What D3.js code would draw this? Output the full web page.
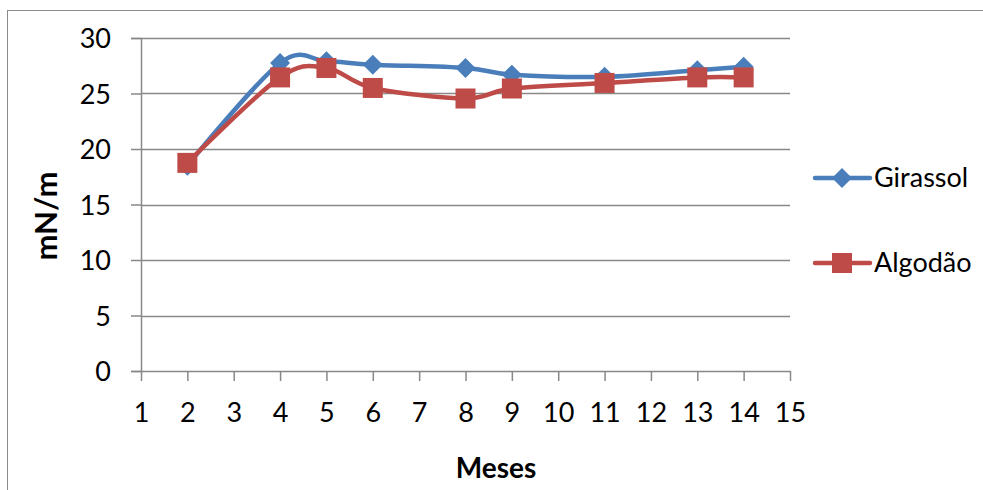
<!DOCTYPE html>
<html><head><meta charset="utf-8">
<script src="https://cdn.jsdelivr.net/npm/d3@7"></script>
<style>body{margin:0;background:#fff}svg{display:block;font-family:Lato,"Open Sans",sans-serif}</style>
</head><body><svg id="c" width="983" height="490"></svg>
<script>
const months = [2, 4, 5, 6, 8, 9, 11, 13, 14];
const girassol = [18.5, 27.75, 27.9, 27.6, 27.3, 26.7, 26.5, 27.1, 27.4];
const algodao = [18.75, 26.45, 27.3, 25.5, 24.55, 25.45, 25.95, 26.45, 26.45];
const xTicks = d3.range(1, 16);
const yTicks = [0, 5, 10, 15, 20, 25, 30];
const seriesNames = ["Girassol", "Algodão"];
const colors = ["#4A7EBB", "#BE4B48"];

const svg = d3.select("#c");
svg.append("rect").attr("x", 7.5).attr("y", 10.5).attr("width", 1000).attr("height", 500)
  .attr("fill", "none").attr("stroke", "#8c8c8c").attr("stroke-width", 1);

const x = d3.scaleLinear().domain([1, 15]).range([141, 790]);
const y = d3.scaleLinear().domain([0, 30]).range([371, 38]);

// grid
svg.append("g").selectAll("line").data(yTicks.filter(d => d > 0)).join("line")
  .attr("x1", x(1)).attr("x2", x(15)).attr("y1", d => Math.round(y(d)) + 0.5).attr("y2", d => Math.round(y(d)) + 0.5)
  .attr("stroke", "#888").attr("stroke-width", 1.5);

// y axis
const ya = svg.append("g").attr("transform", `translate(${x(1)},0)`)
  .call(d3.axisLeft(y).tickValues(yTicks).tickSize(10).tickPadding(20));
ya.select(".domain").attr("stroke", "#888").attr("stroke-width", 1.5);
ya.selectAll(".tick line").attr("stroke", "#888").attr("stroke-width", 1.5);
ya.selectAll("text").attr("font-size", 27).attr("fill", "#000").attr("dy", "0.36em")
  .attr("font-family", "Lato, 'Open Sans', sans-serif");

// x axis
const xa = svg.append("g").attr("transform", `translate(0,${y(0)})`)
  .call(d3.axisBottom(x).tickValues(xTicks).tickSize(10).tickPadding(12).tickSizeOuter(0));
xa.select(".domain").attr("stroke", "#888").attr("stroke-width", 1.5);
xa.selectAll(".tick line").attr("stroke", "#888").attr("stroke-width", 1.5);
xa.selectAll("text").attr("font-size", 27).attr("fill", "#000").attr("y", 51).attr("dy", 0)
  .attr("font-family", "Lato, 'Open Sans', sans-serif");

// titles
svg.append("text").attr("transform", `translate(57,216) rotate(-90)`).attr("text-anchor", "middle")
  .attr("font-size", 31).attr("font-weight", "bold").text("mN/m");
svg.append("text").attr("x", 496).attr("y", 478).attr("text-anchor", "middle")
  .attr("font-size", 28).attr("font-weight", "bold").text("Meses");

const line = d3.line().x(d => x(d[0])).y(d => y(d[1])).curve(d3.curveCardinal.tension(0));
const data = [girassol, algodao].map(vals => months.map((m, i) => [m, vals[i]]));

const diamond = s => `M0,${-s}L${s},0L0,${s}L${-s},0Z`;
function marker(g, i, cx, cy) {
  if (i === 0) g.append("path").attr("d", diamond(10)).attr("transform", `translate(${cx},${cy})`).attr("fill", colors[0]);
  else g.append("rect").attr("x", cx - 10).attr("y", cy - 10).attr("width", 20).attr("height", 20).attr("fill", colors[1]);
}

data.forEach((d, i) => {
  const g = svg.append("g");
  g.append("path").datum(d).attr("d", line).attr("fill", "none").attr("stroke", colors[i]).attr("stroke-width", 4.5)
    .attr("stroke-linejoin", "round");
  d.forEach(p => marker(g, i, x(p[0]), y(p[1])));
});

// legend
const legY = [178, 263];
seriesNames.forEach((n, i) => {
  const g = svg.append("g");
  g.append("line").attr("x1", 815).attr("x2", 870).attr("y1", legY[i]).attr("y2", legY[i])
    .attr("stroke", colors[i]).attr("stroke-width", 4.5).attr("stroke-linecap", "round");
  marker(g, i, 842, legY[i]);
  g.append("text").attr("x", 874).attr("y", legY[i] + 9).attr("font-size", 27).attr("fill", "#000").text(n);
});
</script></body></html>
